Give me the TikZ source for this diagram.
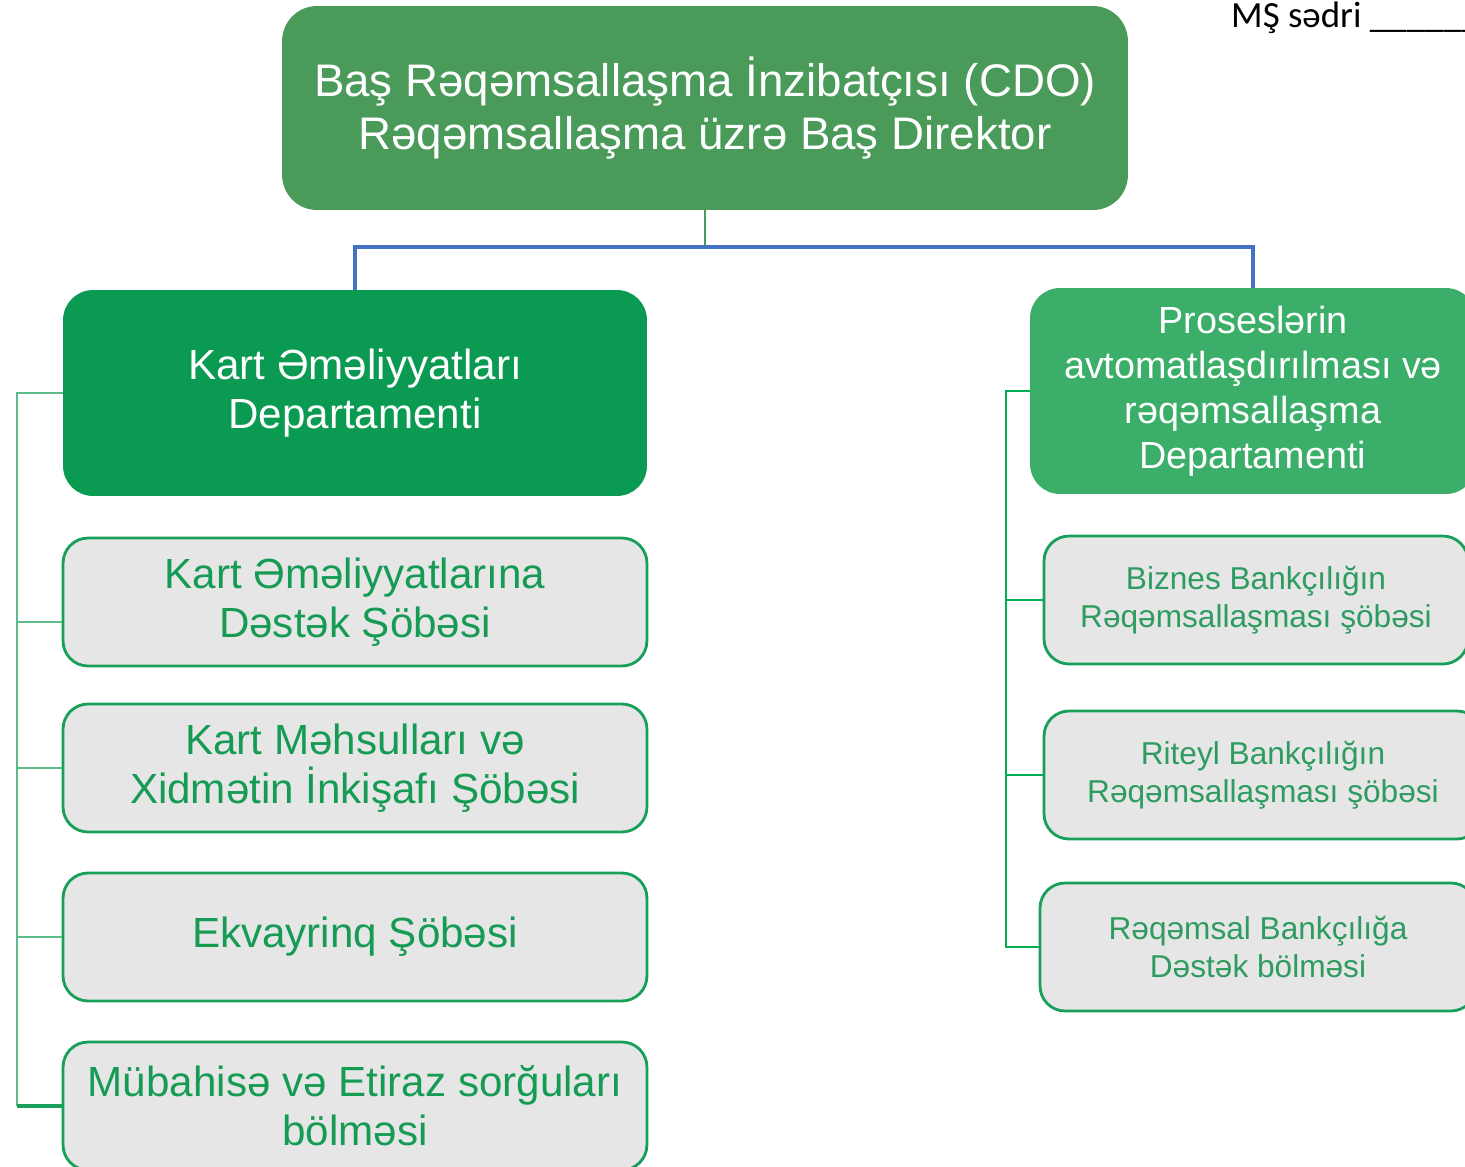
\documentclass[tikz,border=0pt]{standalone}
\usepackage{fontspec}
\setmainfont{Liberation Sans}
\newfontfamily\calib{Carlito}
\definecolor{topgreen}{HTML}{4A9A5A}
\definecolor{deptgreen}{HTML}{0A9A52}
\definecolor{procgreen}{HTML}{3BAF69}
\definecolor{subgray}{HTML}{E6E6E6}
\definecolor{subedge}{HTML}{18A05A}
\definecolor{subtext}{HTML}{169B55}
\definecolor{rsubtext}{HTML}{2E9C60}
\definecolor{leftline}{HTML}{5DBB8A}
\definecolor{rightline}{HTML}{00B050}
\definecolor{barblue}{HTML}{4472C4}
\begin{document}
\begin{tikzpicture}[x=0.02cm, y=-0.02cm,
    headbox/.style={rounded corners=0.7cm, fill=topgreen, text=white, align=center,
        minimum width=16.92cm, minimum height=4.08cm, font=\fontsize{26}{30}\selectfont},
    deptbox/.style={rounded corners=0.6cm, text=white, align=center,
        minimum height=4.12cm},
    subbox/.style={rounded corners=0.5cm, draw=subedge, line width=1.6pt, fill=subgray,
        align=center, minimum height=2.56cm},
    leftsub/.style={subbox, text=subtext, minimum width=11.68cm, font=\fontsize{24}{28}\selectfont},
    rightsub/.style={subbox, text=rsubtext, font=\fontsize{18}{21.5}\selectfont}]
    \useasboundingbox (0,0) rectangle (1465,1167);
    \clip (0,0) rectangle (1465,1167);
    \node[headbox] (top) at (705,108) {Baş Rəqəmsallaşma İnzibatçısı (CDO)\\Rəqəmsallaşma üzrə Baş Direktor};
    \node[anchor=base west, font=\calib\fontsize{21}{25}\selectfont] (chair) at (1225,27) {MŞ sədri \_\_\_\_\_\_\_};
    \node[deptbox, fill=deptgreen, minimum width=11.68cm, font=\fontsize{24}{28}\selectfont] (kart) at (355,393) {Kart Əməliyyatları\\Departamenti};
    \node[deptbox, fill=procgreen, minimum width=8.92cm, font=\fontsize{21.5}{25.6}\selectfont] (proc) at (1253,391) {Proseslərin\\avtomatlaşdırılması və\\rəqəmsallaşma\\Departamenti};
    \node[leftsub] (s1) at (355,602) {Kart Əməliyyatlarına\\Dəstək Şöbəsi};
    \node[leftsub] (s2) at (355,768) {Kart Məhsulları və\\Xidmətin İnkişafı Şöbəsi};
    \node[leftsub] (s3) at (355,937) {Ekvayrinq Şöbəsi};
    \node[leftsub] (s4) at (355,1106) {Mübahisə və Etiraz sorğuları\\bölməsi};
    \node[rightsub, minimum width=8.48cm] (r1) at (1256,600) {Biznes Bankçılığın\\Rəqəmsallaşması şöbəsi};
    \node[rightsub, minimum width=8.76cm] (r2) at (1263,775) {Riteyl Bankçılığın\\Rəqəmsallaşması şöbəsi};
    \node[rightsub, minimum width=8.72cm] (r3) at (1258,947) {Rəqəmsal Bankçılığa\\Dəstək bölməsi};
    % top connectors
    \coordinate (bar) at (705,247);
    \draw[topgreen, line width=0.6pt] (top.south) -- (bar);
    \draw[barblue, line width=2pt] (kart.north) |- (bar) -| (proc.north);
    % left branch
    \coordinate (lx) at (17,0);
    \draw[leftline, line width=1.2pt] (kart.west) -- (kart.west -| lx) -- (s4.west -| lx);
    \draw[leftline, line width=1.2pt] ([yshift=-0.4cm]s1.west) -- ([yshift=-0.4cm]s1.west -| lx);
    \draw[leftline, line width=1.2pt] (s2.west) -- (s2.west -| lx);
    \draw[leftline, line width=1.2pt] (s3.west) -- (s3.west -| lx);
    \draw[subedge, line width=2pt] (s4.west) -- (s4.west -| lx);
    % right branch
    \coordinate (rx) at (1006,0);
    \draw[rightline, line width=1.5pt] (proc.west) -- (proc.west -| rx) -- (r3.west -| rx) -- (r3.west);
    \draw[rightline, line width=1.5pt] (r1.west) -- (r1.west -| rx);
    \draw[rightline, line width=1.5pt] (r2.west) -- (r2.west -| rx);
\end{tikzpicture}
\end{document}
